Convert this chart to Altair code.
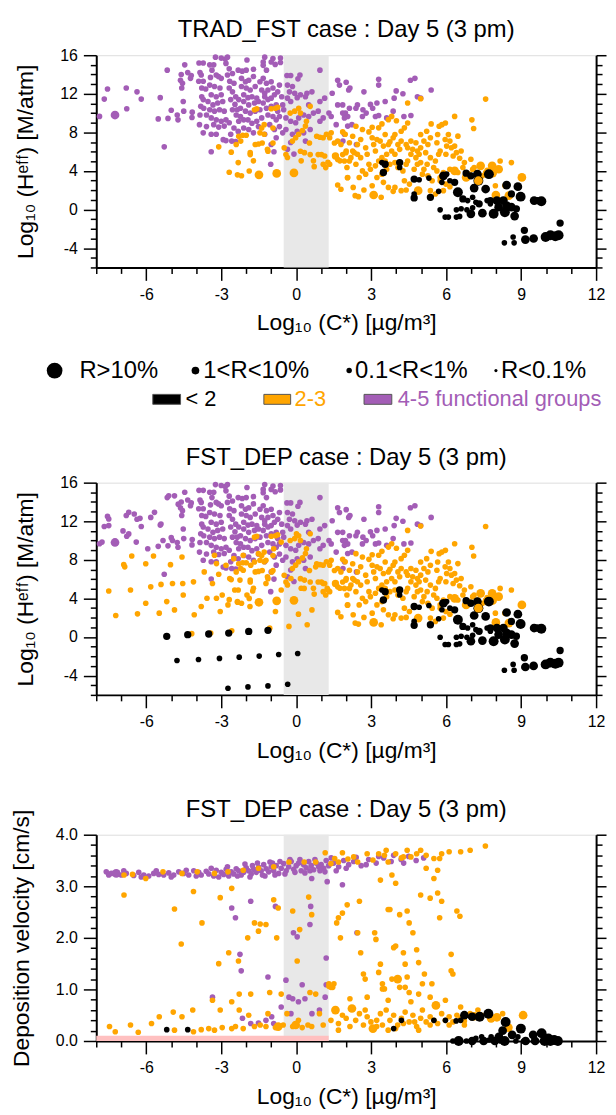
import altair as alt
import pandas as pd

FONT = "Liberation Sans"
TITLE1 = "TRAD_FST case : Day 5 (3 pm)"
TITLE2 = "FST_DEP case : Day 5 (3 pm)"
XTITLE = "Log\u2081\u2080 (C*) [\u00b5g/m\u00b3]"
YTITLE_H = "Log\u2081\u2080 (H\u1d49\u1da0\u1da0) [M/atm]"
YTITLE_V = "Deposition velocity [cm/s]"

X_DOMAIN = [-8, 12]
X_TICKS = list(range(-8, 13))
H_DOMAIN = [-6, 16]
H_TICKS = list(range(-6, 17))
V_DOMAIN = [0, 4]
V_TICKS = [0.0, 0.2, 0.4, 0.6, 0.8, 1.0, 1.2, 1.4, 1.6, 1.8, 2.0, 2.2, 2.4, 2.6, 2.8, 3.0, 3.2, 3.4, 3.6, 3.8, 4.0]
GRAY_BAND = [-0.5, 1.3]
PINK_BAND_X = [-8, 1.3]
PINK_BAND_Y = [0, 0.1]

GROUPS = ["purple", "orange", "black"]
COLORS = ["#a35db6", "#ffa500", "#000000"]
SIZE_CLASSES = ["A", "B", "C", "D"]
SIZES = [100, 32, 15, 8]

LEG_SIZE_LABELS = ["R>10%", "1<R<10%", "0.1<R<1%", "R<0.1%"]
LEG_SIZE_AREAS = [250, 60, 30, 10]
LEG_GROUP_LABELS = ["< 2", "2-3", "4-5 functional groups"]
LEG_GROUP_COLORS = ["#000000", "#ffa500", "#a35db6"]

# ---------------- Henry's law panels (shared by TRAD_FST and FST_DEP) ----------------
H_PURPLE_D = [
    (-7.87, 9.66), (-7.68, 11.45), (-7.55, 12.5), (-6.8, 12.6), (-6.37, 12.2), (-6.2, 11.45), (-6.78, 10.45),
    (-5.44, 11.6), (-5.52, 9.4), (-5.13, 9.45), (-5.0, 10.3), (-5.28, 6.5), (-5.16, 14.45), (-4.73, 9.3),
    (-4.76, 9.8), (-4.5, 10.2), (-4.46, 15.0), (-4.6, 14.0), (-4.55, 13.1), (-4.63, 13.4), (-4.58, 12.6),
    (-4.34, 14.2), (-4.2, 13.9), (-4.23, 13.6), (-4.52, 11.2), (-4.17, 9.55), (-4.16, 10.1), (-3.89, 15.2),
    (-3.72, 15.2), (-3.85, 14.2), (-3.8, 13.95), (-3.9, 13.3), (-3.72, 13.3), (-3.78, 12.6), (-3.62, 12.5),
    (-3.78, 11.7), (-3.72, 11.4), (-3.82, 10.7), (-3.7, 10.5), (-3.85, 9.8), (-3.59, 9.8), (-3.87, 8.8),
    (-3.72, 7.95), (-3.59, 8.6), (-3.4, 7.8), (-3.4, 6.0), (-3.46, 15.0), (-3.3, 15.0), (-3.37, 14.45),
    (-3.43, 13.7), (-3.2, 13.95), (-3.11, 13.8), (-3.0, 13.6), (-3.46, 12.9), (-3.27, 12.75), (-3.05, 12.6),
    (-3.4, 11.9), (-3.2, 11.7), (-3.0, 11.9), (-3.53, 11.2), (-3.33, 10.85), (-3.14, 11.05), (-2.94, 11.2),
    (-3.46, 10.35), (-3.27, 10.2), (-3.07, 10.35), (-2.88, 10.2), (-3.4, 9.5), (-3.2, 9.3), (-3.0, 9.15),
    (-2.81, 9.3), (-3.3, 8.8), (-3.1, 8.55), (-2.88, 8.65), (-2.68, 9.0), (-3.2, 7.8), (-2.92, 7.25),
    (-2.81, 7.15), (-2.62, 7.8), (-3.23, 15.8), (-3.0, 15.7), (-2.84, 15.6), (-2.75, 15.8), (-2.81, 15.15),
    (-2.68, 14.6), (-2.75, 13.95), (-2.55, 14.1), (-2.66, 13.3), (-2.49, 13.1), (-2.68, 12.6), (-2.55, 12.2),
    (-2.42, 11.7), (-2.62, 11.4), (-2.45, 10.9), (-2.3, 11.4), (-2.55, 10.35), (-2.36, 10.35), (-2.23, 10.5),
    (-2.4, 9.8), (-2.23, 9.65), (-2.3, 9.15), (-2.1, 9.3), (-2.49, 8.45), (-2.32, 8.1), (-2.1, 8.45),
    (-2.58, 7.1), (-2.42, 7.05), (-2.32, 14.45), (-2.16, 14.35), (-2.0, 14.45), (-1.71, 14.55), (-2.19, 13.6),
    (-2.03, 13.25), (-1.9, 13.4), (-1.71, 13.8), (-2.19, 12.75), (-2.0, 12.6), (-1.84, 12.4), (-1.64, 12.75),
    (-2.1, 11.9), (-1.93, 11.6), (-1.77, 11.7), (-1.58, 11.55), (-2.1, 11.2), (-1.9, 10.85), (-1.67, 11.05),
    (-1.51, 11.2), (-2.03, 10.2), (-1.84, 10.0), (-1.64, 10.2), (-1.45, 10.35), (-1.93, 9.3), (-1.77, 8.95),
    (-1.58, 9.15), (-1.38, 9.5), (-1.9, 8.3), (-1.71, 7.95), (-1.51, 8.6), (-1.97, 15.5), (-1.32, 15.3),
    (-1.26, 15.8), (-1.32, 14.95), (-1.19, 14.45), (-1.0, 15.3), (-0.84, 15.05), (-0.93, 15.65), (-0.63, 15.7),
    (-0.63, 15.25), (-1.45, 13.25), (-1.32, 13.6), (-1.19, 13.1), (-1.0, 13.25), (-1.38, 12.4), (-1.26, 12.05),
    (-1.13, 12.4), (-0.93, 12.6), (-1.26, 11.7), (-1.13, 11.4), (-1.32, 11.05), (-1.0, 11.55), (-0.87, 11.9),
    (-1.19, 10.5), (-1.0, 10.7), (-0.8, 10.85), (-1.13, 9.8), (-0.93, 9.65), (-0.8, 9.3), (-0.67, 9.65),
    (-1.06, 8.8), (-0.87, 8.3), (-0.67, 8.6), (-0.54, 7.95), (-0.8, 7.45), (-1.0, 6.75), (-0.89, 6.0),
    (-1.02, 4.7), (-1.26, 7.8), (-0.67, 12.9), (-0.74, 12.2), (-0.58, 11.7), (-0.54, 10.85), (-0.5, 10.35),
    (-0.74, 10.2), (-0.37, 13.9), (-0.22, 13.9), (-0.35, 12.9), (-0.15, 12.75), (-0.27, 12.2), (-0.06, 12.05),
    (-0.35, 11.55), (-0.22, 11.2), (0.04, 11.6), (0.15, 13.95), (0.07, 13.55), (-0.41, 9.5), (-0.22, 9.15),
    (-0.02, 9.0), (0.1, 9.5), (0.3, 9.8), (0.5, 9.65), (0.69, 10.0), (0.88, 10.2), (1.08, 9.5), (0.95, 9.15),
    (-0.41, 8.3), (-0.15, 7.8), (0.04, 8.1), (0.3, 7.95), (0.56, 8.3), (-0.35, 6.25), (-0.09, 5.75),
    (-0.22, 6.95), (0.37, 7.1), (0.17, 11.9), (0.43, 12.05), (0.63, 12.2), (0.95, 14.45), (0.37, 11.7),
    (0.95, 11.2), (1.14, 11.55), (0.5, 10.85), (1.66, 13.4), (1.73, 12.9), (1.44, 12.05), (1.66, 10.85),
    (1.86, 10.85), (1.99, 9.65), (1.86, 10.0), (1.4, 9.65), (1.6, 8.8), (1.31, 10.0),
    (2.0, 13.2), (2.1, 12.4), (2.15, 12.6), (2.71, 12.2), (3.3, 13.5), (3.3, 12.9), (4.0, 12.3), (4.27, 12.0),
    (4.57, 13.4), (4.75, 13.6), (5.4, 12.4), (4.98, 11.55), (4.85, 11.7), (3.92, 11.55), (3.56, 11.2),
    (3.23, 11.05), (2.97, 10.9), (3.06, 10.5), (2.45, 10.85), (2.39, 10.5), (2.13, 10.5), (1.97, 10.0),
    (2.06, 9.65), (1.93, 9.5), (2.67, 10.35), (2.8, 10.0), (2.65, 9.65), (3.17, 9.65), (3.3, 9.75),
    (3.88, 10.2), (4.31, 9.65), (4.59, 9.75), (3.62, 9.5), (2.06, 8.65), (1.93, 7.8), (1.87, 7.1),
    (2.41, 6.75), (2.23, 8.8),
]
H_PURPLE_B = [(-7.25, 9.8)]

H_ORANGE_D = [
    (-3.1, 6.5), (-2.6, 5.95), (-2.68, 3.87), (-2.32, 4.87), (-2.35, 3.6), (-2.19, 3.5), (-2.3, 7.6),
    (-2.14, 7.7), (-2.0, 7.7), (-2.4, 6.75), (-2.22, 7.1), (-1.84, 5.9), (-1.84, 5.7), (-1.71, 5.05),
    (-1.88, 4.0), (-1.64, 6.75), (-1.51, 6.8), (-1.36, 6.9), (-1.45, 7.95), (-1.28, 7.8), (-1.13, 6.05),
    (-1.15, 6.25), (-0.93, 6.9), (-1.67, 10.35), (-1.58, 10.45), (-1.0, 10.45), (-0.83, 10.5), (-0.74, 10.6),
    (-1.38, 8.45), (-1.28, 8.8), (-0.93, 8.45), (-0.48, 6.4), (-0.41, 5.7), (-0.35, 5.4), (-0.15, 7.1),
    (-0.02, 7.45), (0.1, 7.8), (0.25, 8.2), (0.37, 8.65), (0.41, 9.15), (-0.24, 10.0), (-0.06, 10.2),
    (0.1, 10.5), (0.17, 10.0), (0.56, 10.7), (0.82, 7.6), (0.95, 7.5), (1.08, 7.45), (1.21, 7.8), (1.4, 7.95),
    (1.34, 7.45), (1.53, 6.9), (1.66, 7.1), (1.79, 6.75), (1.86, 8.05), (1.96, 7.8), (0.17, 6.05), (0.33, 5.9),
    (0.53, 6.9), (0.56, 5.7), (0.69, 5.05), (0.88, 5.7), (1.01, 5.7), (1.14, 5.55), (1.27, 4.9), (1.08, 4.7),
    (1.18, 4.35), (1.34, 4.7), (1.66, 5.2), (1.75, 5.05), (1.86, 5.7), (1.99, 5.9), (2.05, 3.3), (1.66, 2.55),
    (1.79, 2.1), (0.72, 4.45), (0.2, 5.05),
    (7.58, 11.45), (4.46, 11.05), (4.98, 11.5), (6.34, 9.66), (7.03, 9.3), (7.1, 8.4), (5.4, 8.88),
    (5.72, 8.64), (5.83, 8.8), (5.97, 8.98), (4.46, 8.98), (4.01, 9.2), (3.82, 9.66), (3.69, 9.32),
    (3.43, 8.88), (3.3, 8.47), (3.04, 8.53), (2.91, 8.05), (2.65, 8.3), (2.39, 8.64), (2.26, 7.6), (2.13, 6.92),
    (2.0, 6.07), (1.93, 5.04), (2.03, 4.36), (2.06, 3.33), (2.28, 2.3), (2.49, 1.34), (2.36, 1.44), (3.4, 1.27),
    (2.71, 2.03), (3.04, 2.47), (2.52, 3.33), (2.65, 4.01), (2.39, 4.7), (2.58, 5.38), (2.84, 5.73),
    (2.78, 6.41), (3.1, 6.75), (3.17, 6.07), (3.23, 7.27), (3.56, 7.78), (3.75, 7.03), (3.88, 7.44),
    (4.07, 6.75), (4.14, 6.24), (4.2, 7.1), (4.4, 6.75), (4.59, 7.1), (4.79, 6.92), (4.98, 6.41), (5.11, 7.1),
    (5.27, 6.75), (5.37, 7.44), (5.63, 6.92), (5.76, 6.07), (6.02, 6.58), (6.21, 6.41), (6.41, 5.9),
    (6.28, 5.55), (6.47, 7.61), (6.54, 5.32), (6.73, 4.87), (6.99, 5.21), (7.12, 4.36), (8.16, 5.04),
    (8.61, 4.87), (7.58, 3.84), (7.45, 3.5), (7.64, 4.08), (6.93, 3.67), (6.47, 3.84), (6.15, 4.18),
    (5.89, 3.84), (5.76, 3.33), (5.63, 4.01), (5.5, 4.36), (5.24, 4.7), (5.11, 4.18), (4.98, 4.87), (4.85, 4.7),
    (4.92, 5.73), (4.79, 5.38), (4.59, 5.73), (4.72, 4.18), (5.05, 3.67), (5.27, 3.5), (5.44, 2.99),
    (5.76, 2.99), (5.99, 2.64), (6.15, 2.37), (5.89, 1.96), (5.57, 1.62), (5.37, 1.96), (4.53, 2.64),
    (4.33, 2.99), (4.4, 2.03), (4.2, 1.96), (3.95, 2.3), (3.88, 1.89), (3.69, 2.3), (3.49, 2.82), (3.43, 3.67),
    (3.62, 4.18), (3.75, 4.7), (3.95, 4.87), (4.07, 4.36), (4.27, 4.01), (4.4, 4.7), (4.46, 5.04), (3.95, 5.73),
    (3.82, 6.07), (3.62, 5.73), (3.43, 5.38), (3.3, 5.04), (3.17, 4.53), (2.91, 4.7), (2.97, 4.18),
    (2.78, 3.67), (3.23, 3.33), (3.56, 5.04), (4.46, 6.41), (4.66, 6.24), (4.85, 6.07), (5.18, 5.9),
    (5.37, 5.38), (5.57, 5.04), (5.7, 5.73), (3.69, 6.75), (3.49, 6.58), (3.36, 7.1), (3.04, 7.44),
    (2.58, 7.27), (2.45, 6.75), (2.26, 6.07), (2.19, 5.38), (2.32, 5.9), (2.13, 5.04), (2.45, 5.73),
    (4.2, 8.12), (3.95, 7.78), (4.33, 8.47), (4.98, 7.78), (5.22, 8.12), (5.66, 7.78), (5.99, 5.73),
    (7.97, 2.47), (8.35, 2.47), (7.06, 4.18), (7.25, 3.84), (6.67, 4.36), (6.6, 6.07), (6.34, 6.58),
    (6.15, 7.1), (5.96, 7.27), (6.09, 7.78),
]
H_ORANGE_C = [(1.57, 5.55)]
H_ORANGE_B = [
    (-1.49, 3.6), (-0.78, 3.75), (-0.09, 3.8), (3.1, 1.51), (4.88, 1.96), (7.38, 4.53), (7.84, 4.53),
    (8.1, 4.18), (9.03, 3.33), (7.86, 3.78), (6.8, 3.33), (6.34, 4.01), (8.51, 1.44), (7.99, 1.51),
]
H_ORANGE_TOP = [(7.29, 2.99)]

H_BLACK_A = [
    (6.47, 1.79), (8.98, 1.34), (9.81, 0.86), (7.9, -0.44), (8.35, -0.27), (10.17, -2.66), (9.98, -2.84),
    (10.37, -2.77), (10.5, -2.66), (7.71, 3.67), (7.29, 2.99),
]
H_BLACK_B = [
    (8.42, 2.54), (8.87, 2.37), (9.52, 0.93), (7.45, -0.37), (6.99, -0.44), (8.74, -0.68), (8.03, 0.93),
    (8.61, 0.25), (9.17, -3.11), (9.5, -3.0), (7.12, 2.23), (7.58, 2.13), (5.89, 3.5), (7.25, 3.67),
    (8.29, 0.93), (8.42, 0.42), (8.1, 0.25),
]
H_BLACK_C = [
    (6.67, 1.1), (7.32, 0.59), (7.77, 0.93), (8.81, 0.08), (9.65, 0.93), (6.8, 3.77), (6.34, 2.82),
    (4.72, 3.16), (5.37, 1.27), (4.72, 1.21), (4.14, 4.87), (3.56, 4.7), (3.49, 3.84), (6.99, 3.5),
    (8.61, 1.62), (10.56, -1.4), (9.13, -2.15),
]
H_BLACK_D = [
    (5.76, -0.03), (5.96, -0.78), (6.09, -0.78), (6.41, -0.78), (6.54, -0.71), (6.41, -0.03), (6.6, 0.08),
    (6.83, -0.03), (7.06, 0.18), (6.86, 0.93), (7.06, 1.27), (7.19, 0.76), (7.64, 0.93), (7.77, 0.59),
    (8.33, -3.45), (8.72, -3.45), (8.68, -2.84), (4.92, 3.09), (5.31, 3.26), (5.7, 1.89), (5.83, 2.82),
    (6.02, 3.67), (6.15, 2.99), (4.14, 4.36), (3.43, 4.87), (4.72, 1.62),
]

# ---------------- extra species only seen in the FST_DEP Henry panel ----------------
P2_PURPLE_D = [
    (-7.5, 12.23), (-7.5, 11.55), (-6.7, 12.92), (-6.48, 12.75), (-6.25, 12.3), (-5.82, 12.4), (-5.67, 12.92),
    (-5.41, 11.72), (-5.33, 10.0), (-5.1, 14.63), (-4.87, 14.63), (-4.72, 13.77), (-4.95, 10.0), (-5.94, 9.15),
    (-6.4, 9.84), (-6.7, 10.69), (-6.93, 11.0), (-7.77, 9.84),
]
P2_ORANGE_D = [
    (-7.5, 4.77), (-7.22, 2.23), (-6.9, 7.5), (-6.86, 7.27), (-6.58, 8.4), (-6.63, 4.87), (-6.35, 2.4),
    (-6.02, 7.6), (-6.02, 3.5), (-5.82, 5.2), (-5.71, 8.4), (-5.48, 2.47), (-5.41, 5.45), (-5.18, 3.67),
    (-5.03, 7.5), (-4.95, 5.55), (-4.87, 2.81), (-4.57, 8.29), (-4.54, 5.55), (-4.52, 4.35), (-4.18, 0.35),
    (-4.11, 5.72), (-4.08, 2.3), (-3.8, 3.16), (-3.68, 6.75), (-3.57, 4.01), (-3.42, 0.42), (-3.35, 5.55),
    (-3.27, 8.47), (-3.19, 4.01), (-3.04, 2.64), (-2.96, 4.35), (-2.81, 7.44), (-2.73, 3.33), (-2.66, 6.07),
    (-2.58, 0.65), (-2.46, 4.87), (-2.35, 3.67), (-2.25, 5.9), (-2.12, 6.92), (-1.97, 4.35), (-1.85, 3.16),
    (-1.74, 4.77), (-1.67, 7.78), (-1.21, 5.55), (-1.06, 0.92), (-0.98, 6.75), (-0.83, 2.64), (-0.6, 4.87),
    (-0.29, 1.1), (-0.21, 6.07), (0.09, 2.37), (0.32, 5.04), (0.44, 1.27), (0.63, 2.81), (0.78, 7.27),
    (1.08, 5.55), (1.24, 5.04), (-1.51, 8.64), (-0.9, 9.15), (-0.6, 9.84), (0.01, 10.69), (-1.21, 7.95),
    (-2.12, 8.47), (-2.5, 8.12), (-1.82, 7.44), (-3.19, 7.61),
]
P2_BLACK_C = [(-5.18, 0.07), (-4.34, 0.24), (-3.5, 0.31), (-2.7, 0.41), (-1.9, 0.58), (-1.13, 0.69)]
P2_BLACK_D = [
    (-4.77, -2.43), (-3.91, -2.33), (-3.07, -2.22), (-2.28, -2.09), (-1.48, -1.98), (-0.7, -1.81),
    (0.06, -1.71), (-2.73, -5.31), (-1.93, -5.17), (-1.13, -5.07), (-0.34, -4.9),
]

# ---------------- deposition velocity panel ----------------
V_PURPLE_D = [
    (-7.6, 3.28), (-7.4, 3.25), (-7.0, 3.22), (-6.8, 3.25), (-6.5, 3.21), (-6.3, 3.27), (-6.1, 3.22),
    (-5.9, 3.2), (-5.7, 3.25), (-5.5, 3.23), (-5.3, 3.22), (-5.1, 3.26), (-4.9, 3.22), (-4.7, 3.28),
    (-4.5, 3.25), (-4.3, 3.22), (-4.1, 3.3), (-3.9, 3.27), (-3.8, 3.22), (-3.6, 3.29), (-3.5, 3.24),
    (-3.3, 3.2), (-3.2, 3.31), (-3.0, 3.27), (-2.9, 3.23), (-2.8, 3.33), (-2.7, 3.2), (-2.6, 3.28),
    (-2.5, 3.24), (-2.4, 3.34), (-2.3, 3.3), (-2.2, 3.22), (-2.1, 3.27), (-2.0, 3.36), (-1.9, 3.3),
    (-1.8, 3.24), (-1.75, 3.4), (-1.7, 3.33), (-1.6, 3.27), (-1.5, 3.37), (-1.4, 3.3), (-1.35, 3.22),
    (-1.3, 3.42), (-1.2, 3.34), (-1.1, 3.28), (-1.0, 3.38), (-0.95, 3.45), (-0.9, 3.3), (-0.8, 3.4),
    (-0.7, 3.25), (-0.6, 3.35), (-0.5, 3.44), (-0.4, 3.3), (-0.3, 3.38), (-0.2, 3.48), (-0.1, 3.33),
    (0.0, 3.4), (0.1, 3.45), (0.2, 3.3), (0.3, 3.42), (0.4, 3.36), (0.5, 3.48), (0.6, 3.4), (0.7, 3.32),
    (0.8, 3.45), (0.9, 3.38), (1.0, 3.42), (1.1, 3.35), (1.2, 3.5), (1.3, 3.4), (1.5, 3.45), (1.7, 3.38),
    (1.9, 3.5), (2.1, 3.42), (2.3, 3.48), (2.6, 3.4), (2.9, 3.52), (3.2, 3.45), (3.5, 3.55), (3.8, 3.48),
    (4.2, 3.52), (4.5, 3.58), (4.8, 3.5), (5.1, 3.55),
    (-7.5, 3.22), (-6.9, 3.3), (-6.2, 3.18), (-5.6, 3.3), (-5.0, 3.18), (-4.4, 3.31), (-4.0, 3.2),
    (-3.4, 3.35), (-3.1, 3.18), (-2.75, 3.38), (-2.35, 3.2), (-2.05, 3.43), (-1.85, 3.18), (-1.55, 3.45),
    (-1.25, 3.2), (-1.05, 3.47), (-0.85, 3.22), (-0.65, 3.48), (-0.45, 3.24), (-0.25, 3.52), (-0.05, 3.27),
    (0.15, 3.52), (0.35, 3.26), (0.55, 3.3), (0.75, 3.52), (0.95, 3.3), (1.15, 3.28), (1.4, 3.55),
    (1.6, 3.3), (2.0, 3.35), (2.4, 3.56), (2.8, 3.42), (3.3, 3.58), (3.9, 3.6), (4.3, 3.45),
    (-2.58, 2.58), (-2.43, 2.39), (-1.82, 2.71), (-2.25, 1.68), (-2.2, 1.36), (-1.13, 1.24), (-3.35, 0.85),
    (-2.15, 0.44), (-1.82, 0.34), (-1.51, 0.35), (-1.21, 0.4), (-0.98, 0.47), (-0.83, 2.61), (-0.41, 1.18),
    (-0.11, 2.1), (0.04, 2.02), (-0.14, 0.82), (0.09, 0.76), (0.24, 1.09), (0.55, 2.26), (0.58, 2.61),
    (0.62, 3.15), (1.2, 1.61), (1.2, 1.09), (1.24, 3.09), (1.85, 3.03), (2.43, 2.1), (-0.6, 0.66),
    (-0.29, 0.85), (0.93, 0.6), (0.63, 0.53), (0.35, 0.82), (1.16, 0.85), (-0.9, 0.34), (-0.21, 0.53),
]
V_PURPLE_B = [(-7.2, 3.25)]
V_ORANGE_D = [
    (7.57, 3.78), (6.96, 3.7), (6.58, 3.67), (6.12, 3.67), (5.82, 3.63), (5.74, 3.54), (5.2, 3.6),
    (4.98, 3.7), (4.44, 3.7), (3.98, 3.63), (3.6, 3.7), (3.3, 3.63), (2.84, 3.63), (2.3, 3.57), (1.85, 3.65),
    (1.54, 3.54), (1.16, 3.65), (0.78, 3.47), (0.32, 3.47), (-0.29, 3.47), (-0.9, 3.38), (-1.51, 3.35),
    (-2.12, 3.31), (-2.73, 3.28), (-3.27, 3.25), (-3.96, 3.28), (-4.57, 3.25), (-5.33, 3.28), (-6.02, 3.15),
    (-6.55, 3.23), (-6.89, 3.22), (2.46, 3.47), (3.07, 3.51), (3.68, 3.47), (4.21, 3.55), (4.59, 3.57),
    (4.82, 3.63), (5.51, 3.54), (2.07, 3.53), (1.69, 3.47), (1.39, 3.44), (3.53, 3.6),
    (-6.89, 2.83), (-4.87, 2.56), (-4.11, 2.9), (-4.6, 1.88), (-3.77, 2.29), (-3.04, 2.78), (-3.1, 1.5),
    (-2.7, 1.71), (-2.58, 2.96), (-2.31, 1.55), (-2.28, 0.91), (-1.94, 2.0), (-1.67, 2.29), (-1.51, 2.13),
    (-1.44, 2.27), (-1.21, 2.26), (-0.9, 2.74), (-0.78, 2.0), (-0.72, 2.58), (-0.6, 0.91), (-0.14, 2.52),
    (0.04, 1.55), (0.14, 2.16), (0.5, 2.79), (0.62, 2.45), (1.31, 1.06), (1.46, 1.04), (1.69, 2.39),
    (1.62, 2.29), (1.85, 2.48), (1.77, 2.0), (2.04, 2.64), (2.46, 2.1), (2.53, 2.71), (2.58, 1.71),
    (2.69, 1.3), (2.76, 1.2), (3.14, 2.1), (3.19, 1.97), (3.3, 1.33), (3.37, 1.49), (3.45, 1.11), (3.53, 1.01),
    (3.75, 2.55), (3.83, 1.2), (3.9, 1.81), (3.98, 1.84), (4.14, 2.45), (4.29, 1.71), (4.36, 1.04),
    (4.44, 2.52), (4.52, 2.29), (4.67, 2.1), (4.82, 1.77), (4.9, 1.52), (4.98, 2.83), (5.05, 1.11),
    (5.13, 1.3), (5.2, 3.35), (5.36, 2.77), (5.43, 1.11), (5.51, 3.15), (5.66, 2.87), (5.74, 2.39),
    (5.82, 2.71), (6.2, 1.68), (6.2, 1.36), (6.27, 1.3), (6.43, 2.52), (6.55, 2.42), (4.29, 3.57),
    (5.66, 3.31), (3.83, 3.22), (3.98, 3.06), (3.37, 3.12), (3.68, 2.55), (4.44, 1.24), (4.36, 1.49),
    (-7.47, 0.28), (-7.24, 0.18), (-6.63, 0.31), (-6.32, 0.17), (-5.79, 0.34), (-5.48, 0.47), (-4.92, 0.56),
    (-4.87, 0.21), (-4.57, 0.47), (-4.14, 0.6), (-4.11, 0.18), (-3.8, 0.22), (-3.5, 0.24), (-3.35, 0.79),
    (-3.27, 0.21), (-3.04, 0.6), (-2.96, 0.26), (-2.58, 0.24), (-2.58, 0.76), (-2.43, 0.28), (-2.28, 0.6),
    (-2.12, 0.24), (-1.9, 0.5), (-1.82, 0.91), (-1.67, 0.28), (-1.44, 0.31), (-1.21, 0.28), (-1.13, 0.53),
    (-1.06, 0.94), (-0.83, 0.26), (-0.52, 0.31), (-0.37, 0.53), (-0.14, 0.28), (0.09, 0.4), (0.24, 0.26),
    (0.47, 0.31), (0.62, 0.28), (0.55, 0.94), (0.78, 0.91), (0.93, 0.53), (1.08, 0.31), (1.31, 1.11),
    (1.39, 0.4), (1.51, 1.11), (1.69, 0.34), (1.85, 0.5), (2.0, 0.44), (2.38, 0.4), (2.53, 0.53), (2.69, 0.31),
    (2.84, 0.47), (3.22, 0.4), (3.37, 0.53), (3.45, 0.31), (3.6, 0.6), (3.75, 0.4), (3.9, 0.5), (4.06, 0.31),
    (4.21, 0.44), (4.36, 0.56), (4.52, 0.37), (4.67, 0.5), (4.82, 0.28), (4.98, 0.44), (5.05, 0.6),
    (5.2, 0.37), (5.36, 0.47), (5.66, 0.34), (5.82, 0.53), (5.97, 0.4), (6.12, 0.47), (6.27, 0.37),
    (6.43, 0.5), (6.58, 0.44), (6.73, 0.39), (6.96, 0.53), (7.27, 0.6), (7.42, 0.5), (7.65, 0.53),
    (8.26, 0.53), (4.52, 0.94), (4.9, 0.91), (4.14, 1.04), (3.45, 1.01), (2.84, 0.85), (2.15, 0.82),
    (1.39, 1.04), (2.76, 0.6), (3.68, 0.79), (4.59, 0.76), (5.36, 0.85), (5.97, 0.79), (6.58, 0.66),
    (3.98, 0.24), (4.9, 0.21), (5.36, 0.31), (3.68, 0.21), (3.22, 0.28), (2.99, 0.37), (4.29, 0.34),
    (4.74, 0.37), (5.51, 0.4), (6.12, 0.31), (6.73, 0.31), (2.15, 0.28), (1.69, 0.21),
]
V_ORANGE_B = [
    (-0.72, 0.28), (-0.02, 0.31), (1.57, 0.6), (2.23, 0.63), (3.07, 0.24), (5.59, 0.69), (7.12, 0.48),
    (7.8, 0.44), (8.03, 0.46), (8.49, 0.26), (4.06, 1.2), (9.08, 0.5),
]
V_BLACK_A = [
    (6.5, 0.0), (7.69, 0.53), (7.34, 0.47), (8.38, 0.37), (8.99, 0.24), (8.34, 0.0), (9.82, 0.15),
    (9.94, 0.0), (10.17, 0.0), (10.32, 0.02), (10.47, 0.0), (10.09, 0.05),
]
V_BLACK_B = [
    (7.04, 0.0), (7.5, 0.0), (7.95, 0.0), (8.11, 0.08), (8.64, 0.12), (9.48, 0.12), (9.18, 0.0), (9.56, 0.0),
    (8.26, 0.2), (6.73, 0.5), (7.04, 0.47),
]
V_BLACK_D = [
    (7.72, 0.02), (7.8, 0.08), (7.19, 0.05), (6.81, 0.0), (8.79, 0.0), (8.18, 0.0), (5.97, 0.4), (5.51, 0.4),
    (4.21, 0.4), (-5.18, 0.22), (-4.34, 0.22), (3.9, 0.24), (6.4, 0.39), (6.58, 0.4), (7.42, 0.08),
    (8.87, 0.08), (9.1, 0.0), (6.27, 0.0),
]


def frame(parts):
    rows = []
    for pairs, grp, cls in parts:
        for x, y in pairs:
            rows.append({"x": x, "y": y, "grp": grp, "cls": cls})
    return pd.DataFrame(rows)


df1 = frame([
    (H_PURPLE_D, "purple", "D"), (H_PURPLE_B, "purple", "B"),
    (H_ORANGE_D, "orange", "D"), (H_ORANGE_C, "orange", "C"), (H_ORANGE_B, "orange", "B"),
    (H_BLACK_D, "black", "D"), (H_BLACK_C, "black", "C"), (H_BLACK_B, "black", "B"), (H_BLACK_A, "black", "A"),
    (H_ORANGE_TOP, "orange", "B"),
])
df2 = frame([
    (H_PURPLE_D, "purple", "D"), (P2_PURPLE_D, "purple", "D"), (H_PURPLE_B, "purple", "B"),
    (H_ORANGE_D, "orange", "D"), (P2_ORANGE_D, "orange", "D"), (H_ORANGE_C, "orange", "C"),
    (H_ORANGE_B, "orange", "B"),
    (H_BLACK_D, "black", "D"), (P2_BLACK_D, "black", "D"), (H_BLACK_C, "black", "C"), (P2_BLACK_C, "black", "C"),
    (H_BLACK_B, "black", "B"), (H_BLACK_A, "black", "A"),
    (H_ORANGE_TOP, "orange", "B"),
])
df3 = frame([
    (V_PURPLE_D, "purple", "D"), (V_PURPLE_B, "purple", "B"),
    (V_ORANGE_D, "orange", "D"), (V_ORANGE_B, "orange", "B"),
    (V_BLACK_D, "black", "D"), (V_BLACK_B, "black", "B"), (V_BLACK_A, "black", "A"),
])

W = 504
H12 = 214
H3 = 208

xscale = alt.Scale(domain=X_DOMAIN, nice=False, zero=False)


def x_axis():
    return alt.Axis(
        values=X_TICKS, labelExpr="datum.value % 3 === 0 ? '' + datum.value : ''",
        tickSize={"condition": {"test": "datum.value % 3 === 0", "value": 13}, "value": 6},
        tickColor="black", tickWidth=1.5, domainColor="black", domainWidth=2, grid=False,
        labelFont=FONT, labelFontSize=16, labelColor="black", labelPadding=6,
        labelOverlap=False, labelFlush=False,
        title=XTITLE, titleFont=FONT, titleFontSize=23, titleFontWeight="normal",
        titleColor="black", titlePadding=10,
    )


def y_axes(kind):
    if kind == "H":
        vals = H_TICKS
        test = "datum.value % 4 === 0"
        lab = "datum.value % 4 === 0 ? '' + datum.value : ''"
        title = YTITLE_H
    else:
        vals = V_TICKS
        test = "abs(datum.value - round(datum.value)) < 0.001"
        lab = "abs(datum.value - round(datum.value)) < 0.001 ? format(datum.value, '.1f') : ''"
        title = YTITLE_V
    left = alt.Axis(
        orient="left", values=vals, labelExpr=lab,
        tickSize={"condition": {"test": test, "value": 13}, "value": 6},
        tickColor="black", tickWidth=1.5, domainColor="black", domainWidth=2, grid=False,
        labelFont=FONT, labelFontSize=16, labelColor="black", labelPadding=6, labelOverlap=False,
        labelFlush=False,
        title=title, titleFont=FONT, titleFontSize=23, titleFontWeight="normal", titleColor="black",
        titlePadding=22,
    )
    right = alt.Axis(
        orient="right", values=vals, labels=False, title="",
        tickSize={"condition": {"test": test, "value": 10}, "value": 6},
        tickColor="black", tickWidth=1.5, domainColor="black", domainWidth=2, grid=False,
    )
    return left, right


def panel(df, kind, title, height, with_legend=False):
    ydom = H_DOMAIN if kind == "H" else V_DOMAIN
    yscale = alt.Scale(domain=ydom, nice=False, zero=False)
    left, right = y_axes(kind)
    xax = x_axis()

    band = alt.Chart(pd.DataFrame({"x0": [GRAY_BAND[0]], "x1": [GRAY_BAND[1]]})).mark_rect(
        color="#e8e8e8").encode(
        x=alt.X("x0:Q", scale=xscale, axis=xax), x2="x1:Q",
        y=alt.value(0), y2=alt.value(height))
    layers = [band]
    if kind == "V":
        pink = alt.Chart(pd.DataFrame({
            "x0": [PINK_BAND_X[0]], "x1": [PINK_BAND_X[1]],
            "y0": [PINK_BAND_Y[0]], "y1": [PINK_BAND_Y[1]]})).mark_rect(color="#ffc0c0").encode(
            x=alt.X("x0:Q", scale=xscale, axis=xax), x2="x1:Q",
            y=alt.Y("y0:Q", scale=yscale, axis=None), y2="y1:Q")
        layers.append(pink)

    pts = alt.Chart(df).mark_circle(opacity=1).encode(
        x=alt.X("x:Q", scale=xscale, axis=xax),
        y=alt.Y("y:Q", scale=yscale, axis=left),
        color=alt.Color("grp:N", scale=alt.Scale(domain=GROUPS, range=COLORS), legend=None),
        size=alt.Size("cls:O", scale=alt.Scale(domain=SIZE_CLASSES, range=SIZES), legend=None),
    )
    rax = alt.Chart(df).mark_circle(opacity=0).encode(
        x=alt.X("x:Q", scale=xscale, axis=xax),
        y=alt.Y("y:Q", scale=yscale, axis=right),
    )
    layers += [pts, rax]

    ttl = alt.Chart(pd.DataFrame({"t": [title]})).mark_text(
        align="center", baseline="middle", font=FONT, fontSize=24, color="black").encode(
        x=alt.value(W / 2), y=alt.value(-25), text="t:N")
    layers.append(ttl)

    if with_legend:
        row1 = 318
        row2 = 347
        circ_x = [-42, 100, 255, 403]
        text_x = [-17, 108, 261, 408]
        for i, lab in enumerate(LEG_SIZE_LABELS):
            d = pd.DataFrame({"t": [lab]})
            layers.append(alt.Chart(d).mark_circle(color="black", opacity=1, size=LEG_SIZE_AREAS[i]).encode(
                x=alt.value(circ_x[i]), y=alt.value(row1)))
            layers.append(alt.Chart(d).mark_text(
                align="left", baseline="middle", font=FONT, fontSize=24, color="black").encode(
                x=alt.value(text_x[i]), y=alt.value(row1), text="t:N"))
        rect_x = [(57, 85), (169, 196), (270, 298)]
        gtext_x = [90, 200, 304]
        for i, lab in enumerate(LEG_GROUP_LABELS):
            d = pd.DataFrame({"t": [lab]})
            layers.append(alt.Chart(d).mark_rect(
                color=LEG_GROUP_COLORS[i], stroke="#555555", strokeWidth=1).encode(
                x=alt.value(rect_x[i][0]), x2=alt.value(rect_x[i][1]),
                y=alt.value(row2 - 5), y2=alt.value(row2 + 5)))
            layers.append(alt.Chart(d).mark_text(
                align="left", baseline="middle", font=FONT, fontSize=22,
                color=LEG_GROUP_COLORS[i]).encode(
                x=alt.value(gtext_x[i]), y=alt.value(row2), text="t:N"))

    return alt.layer(*layers).resolve_axis(y="independent").properties(width=W, height=height)


p1 = panel(df1, "H", TITLE1, H12, with_legend=True)
p2 = panel(df2, "H", TITLE2, H12)
p3 = panel(df3, "V", TITLE2, H3)

chart = alt.vconcat(p1, p2, p3, spacing=34).properties(
    padding={"left": 2, "top": 5, "right": 0, "bottom": 0}
).configure_view(stroke="black", strokeWidth=2).configure(font=FONT)

chart.save("out.html", embed_options={"renderer": "svg", "actions": False})
